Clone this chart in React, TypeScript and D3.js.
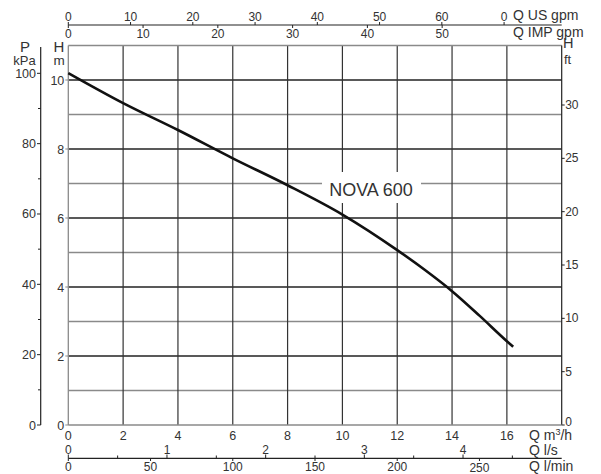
import * as d3 from "d3";

// pump curve NOVA 600, Q in m3/h, H in m
const flowM3h = [0, 2, 4, 6, 8, 10, 12, 13, 14, 15, 16, 16.23];
const headM = [10.2, 9.33, 8.55, 7.73, 6.95, 6.1, 5.07, 4.5, 3.88, 3.17, 2.43, 2.27];

const m3hTicks = [0, 2, 4, 6, 8, 10, 12, 14, 16];
const mTicks = [0, 2, 4, 6, 8, 10];
const kPaTicks = [0, 20, 40, 60, 80, 100];
const kPaMinor = [10, 30, 50, 70, 90];
const ftTicks = [0, 5, 10, 15, 20, 25, 30];
const usGpmTicks = [0, 10, 20, 30, 40, 50, 60, 70];
const usGpmLabels = ["0", "10", "20", "30", "40", "50", "60", "0"];
const impGpmTicks = [0, 10, 20, 30, 40, 50];
const lsTicks = [0, 1, 2, 3, 4];
const lsMinor = [0.5, 1.5, 2.5, 3.5, 4.5];
const lminTicks = [0, 50, 100, 150, 200, 250];

const W = 601;
const H = 474;
const font = "'Liberation Sans', Arial, sans-serif";

export default function App() {
  const x = d3.scaleLinear().domain([0, 18]).range([68.3, 561.7]);
  const y = d3.scaleLinear().domain([0, 11]).range([425, 45.5]);
  const yKpa = (v: number) => y(v / 9.81);
  const yFt = d3.scaleLinear().domain([0, 30]).range([425, 105]);
  const xUs = (v: number) => x(v / 4.403);
  const xImp = (v: number) => x(v / 3.666);
  const xLs = (v: number) => x(v * 3.6);
  const xLmin = (v: number) => x(v * 0.06);

  const pts: [number, number][] = flowM3h.map((q, i) => [q, headM[i]]);
  const line = d3
    .line<[number, number]>()
    .x((d) => x(d[0]))
    .y((d) => y(d[1]))
    .curve(d3.curveMonotoneX);

  const hLines = d3.range(1, 11);
  const dark = "#222";
  const grey = "#8a8a8a";
  const txt = "#333";

  return (
    <svg
      width={W}
      height={H}
      style={{ position: "absolute", left: 0, top: 0, background: "#fff" }}
      fontFamily={font}
    >
      {/* grid */}
      {hLines.map((v) => (
        <line
          key={"h" + v}
          x1={x(0)}
          x2={x(18)}
          y1={y(v)}
          y2={y(v)}
          stroke={v % 2 === 0 ? dark : grey}
          strokeWidth={1.3}
        />
      ))}
      {m3hTicks.slice(1).map((v) => (
        <line key={"v" + v} x1={x(v)} x2={x(v)} y1={y(11)} y2={y(0)} stroke="#333" strokeWidth={1.2} />
      ))}
      <line x1={x(0)} x2={x(18)} y1={y(11)} y2={y(11)} stroke={grey} strokeWidth={1.3} />
      <line x1={x(0)} x2={x(0)} y1={y(11)} y2={y(0)} stroke={grey} strokeWidth={1.3} />
      <line x1={x(18)} x2={x(18)} y1={y(11)} y2={y(0)} stroke={dark} strokeWidth={1.2} />
      <line x1={x(0)} x2={x(18)} y1={y(0)} y2={y(0)} stroke={grey} strokeWidth={1.3} />

      {/* curve label */}
      <rect x={322} y={172} width={99} height={31} fill="#fff" />
      <text x={371} y={196} textAnchor="middle" fontSize={18} fill="#333">
        NOVA 600
      </text>
      <path d={line(pts) ?? ""} fill="none" stroke="#111" strokeWidth={2.6} />

      {/* H m axis */}
      {mTicks.map((v) => (
        <g key={"m" + v}>
          <line x1={x(0) - 3} x2={x(0)} y1={y(v)} y2={y(v)} stroke={grey} />
          <text x={x(0) - 4} y={y(v) + 4.5} textAnchor="end" fontSize={12.5} fill={txt}>
            {v}
          </text>
        </g>
      ))}
      <text x={59} y={52} textAnchor="middle" fontSize={15} fill={txt}>H</text>
      <text x={59} y={65} textAnchor="middle" fontSize={13.5} fill={txt}>m</text>

      {/* P kPa axis */}
      <line x1={40.7} x2={40.7} y1={47} y2={yKpa(0)} stroke={dark} strokeWidth={1.2} />
      {kPaTicks.map((v) => (
        <g key={"k" + v}>
          <line x1={37} x2={40.7} y1={yKpa(v)} y2={yKpa(v)} stroke={dark} />
          <text x={36} y={yKpa(v) + 4.5} textAnchor="end" fontSize={12.5} fill={txt}>
            {v}
          </text>
        </g>
      ))}
      {kPaMinor.map((v) => (
        <line key={"km" + v} x1={38} x2={40.7} y1={yKpa(v)} y2={yKpa(v)} stroke={dark} />
      ))}
      <text x={25} y={52} textAnchor="middle" fontSize={15} fill={txt}>P</text>
      <text x={24.5} y={64.5} textAnchor="middle" fontSize={13} fill={txt}>kPa</text>

      {/* H ft axis */}
      {ftTicks.map((v) => (
        <g key={"f" + v}>
          <line x1={x(18)} x2={x(18) + 3} y1={yFt(v)} y2={yFt(v)} stroke={dark} />
          <text x={x(18) + 3.5} y={yFt(v) + (v === 0 ? 0.5 : 4)} fontSize={12} fill={txt}>
            {v}
          </text>
        </g>
      ))}
      <text x={563} y={48} fontSize={14.5} fill={txt}>H</text>
      <text x={564} y={64} fontSize={13} fill={txt}>ft</text>

      {/* top gpm axes */}
      <line x1={x(0)} x2={x(18)} y1={25} y2={25} stroke={dark} strokeWidth={1.2} />
      {usGpmTicks.map((v, i) => (
        <g key={"us" + v}>
          <line x1={xUs(v)} x2={xUs(v)} y1={22} y2={25} stroke={dark} />
          <text x={xUs(v)} y={21} textAnchor="middle" fontSize={12} fill={txt}>
            {usGpmLabels[i]}
          </text>
        </g>
      ))}
      {impGpmTicks.map((v) => (
        <g key={"imp" + v}>
          <line x1={xImp(v)} x2={xImp(v)} y1={25} y2={28} stroke={dark} />
          <text x={xImp(v)} y={37.5} textAnchor="middle" fontSize={12} fill={txt}>
            {v}
          </text>
        </g>
      ))}
      <text x={513} y={20} fontSize={14} fill={txt}>Q US gpm</text>
      <text x={513} y={36.5} fontSize={14} fill={txt}>Q IMP gpm</text>

      {/* bottom axes */}
      {m3hTicks.map((v) => (
        <text key={"q" + v} x={x(v)} y={440} textAnchor="middle" fontSize={12.5} fill={txt}>
          {v}
        </text>
      ))}
      <line x1={x(0)} x2={x(18)} y1={458.3} y2={458.3} stroke={dark} strokeWidth={1.2} />
      {lsTicks.map((v) => (
        <g key={"ls" + v}>
          <line x1={xLs(v)} x2={xLs(v)} y1={454.5} y2={458.3} stroke={dark} />
          <text x={xLs(v)} y={454} textAnchor="middle" fontSize={12} fill={txt}>
            {v}
          </text>
        </g>
      ))}
      {lsMinor.map((v) => (
        <line key={"lsm" + v} x1={xLs(v)} x2={xLs(v)} y1={455.5} y2={458.3} stroke={dark} />
      ))}
      {lminTicks.map((v) => (
        <g key={"lm" + v}>
          <line x1={xLmin(v)} x2={xLmin(v)} y1={458.3} y2={461} stroke={dark} />
          <text x={xLmin(v)} y={v === 250 ? 471.5 : 470.5} textAnchor="middle" fontSize={12} fill={txt}>
            {v}
          </text>
        </g>
      ))}
      <text x={529} y={440} fontSize={14} fill={txt}>
        Q m<tspan dy={-5} fontSize={9}>3</tspan>
        <tspan dy={5}>/h</tspan>
      </text>
      <text x={529} y={455} fontSize={14} fill={txt}>Q l/s</text>
      <text x={529} y={471} fontSize={14} fill={txt}>Q l/min</text>
    </svg>
  );
}
